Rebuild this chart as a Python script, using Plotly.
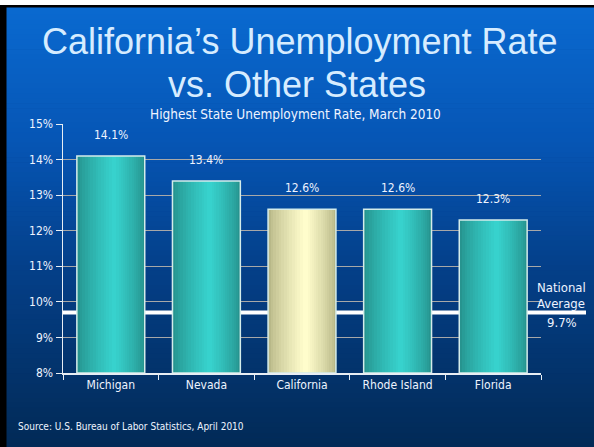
import plotly.graph_objects as go

# ---- data ----
states = ["Michigan", "Nevada", "California", "Rhode Island", "Florida"]
rates = [14.1, 13.4, 12.6, 12.6, 12.3]
national_avg = 9.7
y_ticks = [8, 9, 10, 11, 12, 13, 14, 15]

W, H = 594, 447
FONT = "Liberation Sans Narrow, DejaVu Sans Condensed, sans-serif"
TXT = "#eef4ff"

def nfont(size):
    return dict(family=FONT, size=size, color=TXT)

def hex2rgb(h):
    h = h.lstrip("#")
    return tuple(int(h[i:i + 2], 16) for i in (0, 2, 4))

def mix(c1, c2, t):
    a, b = hex2rgb(c1), hex2rgb(c2)
    return "rgb(%d,%d,%d)" % tuple(round(a[i] + (b[i] - a[i]) * t) for i in range(3))

fig = go.Figure()

# gradient bars built from overlaid layers
bar_w = 0.71
peak = 0.55
n_layers = 14
teal_edge, teal_mid = "#26948f", "#37d2cd"
yel_edge, yel_mid = "#b8b888", "#fffdcc"
for k in range(n_layers):
    s = k / n_layers
    a = peak * s
    b = peak + (1 - peak) * (1 - s)
    t = (k / (n_layers - 1)) ** 0.8
    cols = [mix(yel_edge, yel_mid, t) if st == "California" else mix(teal_edge, teal_mid, t)
            for st in states]
    fig.add_trace(go.Bar(
        x=states, y=[r - 8 for r in rates], base=8,
        width=bar_w * (b - a), offset=-bar_w / 2 + bar_w * a,
        marker=dict(color=cols, line=dict(width=0)),
        hoverinfo="skip", showlegend=False,
    ))
# outline
fig.add_trace(go.Bar(
    x=states, y=[r - 8 for r in rates], base=8, width=bar_w, offset=-bar_w / 2,
    marker=dict(color="rgba(0,0,0,0)", line=dict(width=1.5, color="#d4ecea")),
    hoverinfo="skip", showlegend=False,
))

shapes = []
# background gradient
stops = [(0.0, "#0a6ad0"), (0.3, "#0656b6"), (0.6, "#043f88"), (1.0, "#022a56")]
n_str = 90
y_top = 5
for i in range(n_str):
    f0 = i / n_str
    f1 = (i + 1) / n_str
    fm = (f0 + f1) / 2
    for j in range(len(stops) - 1):
        if stops[j][0] <= fm <= stops[j + 1][0]:
            tt = (fm - stops[j][0]) / (stops[j + 1][0] - stops[j][0])
            col = mix(stops[j][1], stops[j + 1][1], tt)
            break
    py0 = y_top + f0 * (H - y_top)
    py1 = y_top + f1 * (H - y_top) + 0.6
    shapes.append(dict(type="rect", xref="paper", yref="paper", layer="below",
                       x0=0, x1=1, y0=1 - py1 / H, y1=1 - py0 / H,
                       fillcolor=col, line=dict(width=0)))
# slide frame: white strip at top, black border top and left
shapes.append(dict(type="rect", xref="paper", yref="paper", layer="below",
                   x0=0, x1=1, y0=1 - 5 / H, y1=1, fillcolor="white", line=dict(width=0)))
shapes.append(dict(type="rect", xref="paper", yref="paper", layer="below",
                   x0=0, x1=1, y0=1 - 7.5 / H, y1=1 - 5 / H, fillcolor="black", line=dict(width=0)))
shapes.append(dict(type="rect", xref="paper", yref="paper", layer="below",
                   x0=0, x1=6.5 / W, y0=0, y1=1 - 5 / H, fillcolor="black", line=dict(width=0)))
# national average line
shapes.append(dict(type="line", xref="paper", yref="y", layer="below",
                   x0=63 / W, x1=586 / W, y0=national_avg, y1=national_avg,
                   line=dict(color="white", width=4)))

TITLE_FONT = dict(family="Liberation Sans, Arial, sans-serif", size=36, color="#d6ecff")
annotations = [
    dict(text="California’s Unemployment Rate", x=300 / W, y=1 - 41 / H, font=TITLE_FONT),
    dict(text="vs. Other States", x=297 / W, y=1 - 84.5 / H, font=TITLE_FONT),
    dict(text="Highest State Unemployment Rate, March 2010", x=295 / W, y=1 - 114 / H,
         font=nfont(13.5)),
    dict(text="Source: U.S. Bureau of Labor Statistics, April 2010", x=17 / W, y=1 - 426 / H,
         xanchor="left", font=nfont(10)),
    dict(text="National", x=561 / W, y=1 - 287 / H, font=nfont(13)),
    dict(text="Average", x=561 / W, y=1 - 303 / H, font=nfont(13)),
    dict(text=f"{national_avg}%", x=562 / W, y=1 - 322 / H, font=nfont(13)),
]
for a in annotations:
    a.update(xref="paper", yref="paper", showarrow=False, yanchor="middle", borderpad=0)
    a.setdefault("xanchor", "center")

for st, r in zip(states, rates):
    annotations.append(dict(x=st, y=r, xref="x", yref="y", text=f"{r}%", showarrow=False,
                            yshift=21, yanchor="middle", font=nfont(12)))

fig.update_layout(
    width=W, height=H,
    margin=dict(l=0, r=0, t=0, b=0, autoexpand=False),
    paper_bgcolor="#043f88", plot_bgcolor="rgba(0,0,0,0)",
    barmode="overlay", bargap=0,
    shapes=shapes, annotations=annotations,
    showlegend=False,
    xaxis=dict(domain=[63 / W, 541 / W], showline=True, linecolor="#e8eef4", linewidth=1.5,
               ticks="outside", tickson="boundaries", ticklen=5, tickcolor="#e8eef4",
               showgrid=False, tickfont=nfont(12), automargin=False,
               range=[-0.5, 4.5], fixedrange=True),
    yaxis=dict(domain=[1 - 373 / H, 1 - 124 / H], range=[8, 15], tickvals=y_ticks,
               ticktext=[f"{v}%" for v in y_ticks], automargin=False,
               showline=True, linecolor="#e8eef4", linewidth=1.5,
               ticks="outside", ticklen=6, tickcolor="#e8eef4",
               showgrid=True, gridcolor="#a8a8a8", gridwidth=1,
               zeroline=False, tickfont=nfont(12), fixedrange=True),
)

fig.write_html("out.html", config={"displayModeBar": False, "staticPlot": True},
               post_script="document.body.style.margin='0';")
